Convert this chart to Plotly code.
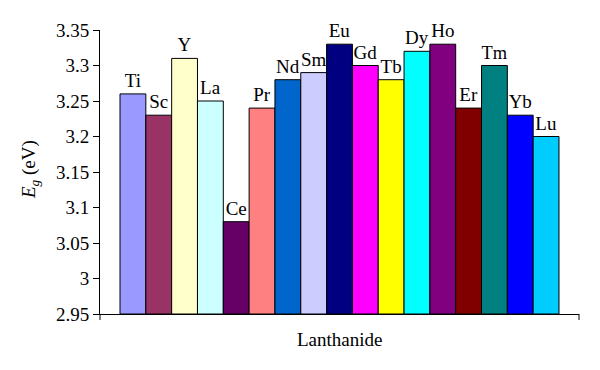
import plotly.graph_objects as go

elements = ["Ti", "Sc", "Y", "La", "Ce", "Pr", "Nd", "Sm", "Eu", "Gd", "Tb", "Dy", "Ho", "Er", "Tm", "Yb", "Lu"]
eg_values = [3.26, 3.23, 3.31, 3.25, 3.08, 3.24, 3.28, 3.29, 3.33, 3.30, 3.28, 3.32, 3.33, 3.24, 3.30, 3.23, 3.20]
bar_colors = ["#9999FF", "#993366", "#FFFFCC", "#CCFFFF", "#660066", "#FF8080", "#0066CC", "#CCCCFF",
              "#000080", "#FF00FF", "#FFFF00", "#00FFFF", "#800080", "#800000", "#008080", "#0000FF", "#00CCFF"]
y_ticks = [2.95, 3.0, 3.05, 3.1, 3.15, 3.2, 3.25, 3.3, 3.35]
y_ticktext = ["2.95", "3", "3.05", "3.1", "3.15", "3.2", "3.25", "3.3", "3.35"]

font_family = "Liberation Serif"
base = 2.95
xpos = list(range(len(elements)))

fig = go.Figure()
fig.add_trace(go.Bar(
    x=xpos,
    y=[v - base for v in eg_values],
    base=base,
    width=1.0,
    marker=dict(color=bar_colors, line=dict(color="black", width=1)),
    text=elements,
    textposition="outside",
    textfont=dict(family=font_family, size=19, color="black"),
    cliponaxis=False,
    hoverinfo="skip",
))

lo, hi = -1.275, len(elements) - 1 + 1.275
fig.update_layout(
    width=600, height=370,
    margin=dict(l=100, r=21, t=30, b=56),
    plot_bgcolor="white", paper_bgcolor="white",
    showlegend=False,
    font=dict(family=font_family, size=19, color="black"),
    xaxis=dict(
        range=[lo, hi],
        showticklabels=False, ticks="",
        showline=True, linecolor="black", linewidth=1,
        showgrid=False, zeroline=False, automargin=False,
    ),
    yaxis=dict(
        range=[2.95, 3.35],
        tickvals=y_ticks, ticktext=y_ticktext,
        ticks="outside", ticklen=6, tickcolor="black", tickwidth=1,
        showline=True, linecolor="black", linewidth=1,
        showgrid=False, zeroline=False, automargin=False,
        tickfont=dict(family=font_family, size=19),
    ),
    shapes=[
        dict(type="line", xref="paper", yref="paper", x0=0, x1=0, y0=0, y1=-6 / 284,
             line=dict(color="black", width=1)),
        dict(type="line", xref="paper", yref="paper", x0=1, x1=1, y0=0, y1=-6 / 284,
             line=dict(color="black", width=1)),
    ],
    annotations=[
        dict(text="Lanthanide", xref="paper", yref="paper", x=(339 - 100) / 479, y=-(339 - 314) / 284,
             xanchor="center", yanchor="middle", showarrow=False,
             font=dict(family=font_family, size=19)),
        dict(text="<i>E</i><sub><i>g</i></sub> (eV)", xref="paper", yref="paper",
             x=-(100 - 30) / 479, y=(314 - 170) / 284, textangle=-90,
             xanchor="center", yanchor="middle", showarrow=False,
             font=dict(family=font_family, size=19)),
    ],
)

fig.write_html(
    "out.html",
    config={"displayModeBar": False, "staticPlot": True},
    post_script="document.body.style.margin='0';document.body.style.padding='0';document.body.style.overflow='hidden';",
)
